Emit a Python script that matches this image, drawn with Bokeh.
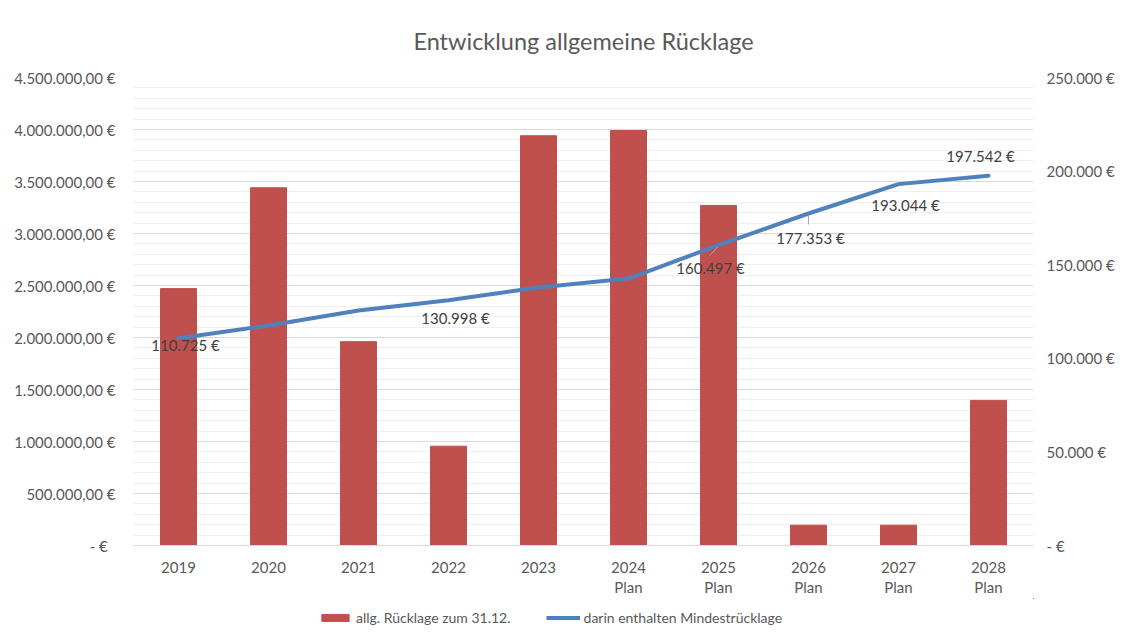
from bokeh.plotting import figure
from bokeh.layouts import column
from bokeh.models import (Range1d, LinearAxis, FixedTicker, Legend, LegendItem,
                          ColumnDataSource)
from bokeh.core.properties import value
from bokeh.embed import file_html
from bokeh.resources import INLINE

# ---------------- data ----------------
years = ["2019", "2020", "2021", "2022", "2023",
         "2024", "2025", "2026", "2027", "2028"]
year_suffix = ["", "", "", "", "", "Plan", "Plan", "Plan", "Plan", "Plan"]
ruecklage = [2470000, 3440000, 1960000, 955000, 3940000,
             3990000, 3270000, 195000, 195000, 1395000]
mindest = [110725, 117500, 125500, 130998, 137800,
           142600, 160497, 177353, 193044, 197542]
label_shown = [True, False, False, True, False, False, True, True, True, True]

left_ticks = [0, 500000, 1000000, 1500000, 2000000, 2500000,
              3000000, 3500000, 4000000, 4500000]
left_tick_labels = ["-   €", "500.000,00 €", "1.000.000,00 €", "1.500.000,00 €",
                    "2.000.000,00 €", "2.500.000,00 €", "3.000.000,00 €",
                    "3.500.000,00 €", "4.000.000,00 €", "4.500.000,00 €"]
right_ticks = [0, 50000, 100000, 150000, 200000, 250000]
right_tick_labels = ["-   €", "50.000 €", "100.000 €", "150.000 €",
                     "200.000 €", "250.000 €"]

series_names = ["allg. Rücklage zum 31.12.", "darin enthalten Mindestrücklage"]
title = "Entwicklung allgemeine Rücklage"

# ---------------- styles ----------------
FONT = "Lato"
TXT = "#595959"
BAR = "#C0504D"
LINE = "#4F81BD"
# per-label pixel offsets (style only; positive dy = downward)
lbl_dx = [7, 0, 0, 7, 0, 0, -8, 2, 7, -8]
lbl_dy = [7, 0, 0, 18, 0, 0, 23, 25, 21, -20]


def fmt_eur(v):
    return "{:,.0f}".format(v).replace(",", ".") + " €"


xs = list(range(len(years)))
Y2MAX = right_ticks[-1]

p = figure(frame_width=900, frame_height=468,
           x_range=Range1d(-0.5, len(years) - 0.5),
           y_range=Range1d(left_ticks[0], left_ticks[-1]),
           output_backend="svg", toolbar_location=None,
           min_border_left=133, min_border_right=85,
           min_border_top=77, min_border_bottom=0)
p.extra_y_ranges = {"y2": Range1d(right_ticks[0], right_ticks[-1])}

p.title.text = title
p.title.align = "center"
p.title.text_font = FONT
p.title.text_font_size = "23.5px"
p.title.text_font_style = "normal"
p.title.text_color = TXT
p.title.text_line_height = 1.0
p.title.standoff = 46
p.outline_line_color = None

src = ColumnDataSource(dict(x=xs, r=ruecklage, m=mindest))
bars = p.vbar(x="x", top="r", width=0.4, color=BAR, source=src)
line = p.line(x="x", y="m", source=src, y_range_name="y2",
              line_width=4, line_color=LINE, line_cap="round", line_join="round")

# data labels
lx, ly, lt, ldx, ldy = [], [], [], [], []
for i, show in enumerate(label_shown):
    if show:
        lx.append(xs[i]); ly.append(mindest[i]); lt.append(fmt_eur(mindest[i]))
        ldx.append(lbl_dx[i]); ldy.append(lbl_dy[i])
lsrc = ColumnDataSource(dict(x=lx, y=ly, t=lt, dx=ldx, dy=ldy))
p.text(x="x", y="y", text="t", x_offset="dx", y_offset="dy", source=lsrc,
       y_range_name="y2", text_font=value(FONT), text_font_size="15px",
       text_color="#404040", text_align="center", text_baseline="middle")

# leader lines for 2025 and 2026 labels
px_y = Y2MAX / 468.0
px_x = len(years) / 900.0
i25, i26 = 6, 7
p.segment(x0=[xs[i25] - 1 * px_x, xs[i26]],
          y0=[mindest[i25] - 2 * px_y, mindest[i26] - 2 * px_y],
          x1=[xs[i25] - 9 * px_x, xs[i26]],
          y1=[mindest[i25] - 11 * px_y, mindest[i26] - 11 * px_y],
          y_range_name="y2", line_color="#a6a6a6", line_width=1)


def style_axis(ax, standoff):
    ax.axis_line_color = None
    ax.major_tick_line_color = None
    ax.minor_tick_line_color = None
    ax.major_tick_out = 0
    ax.major_tick_in = 0
    ax.minor_tick_out = 0
    ax.minor_tick_in = 0
    ax.major_label_standoff = standoff
    ax.major_label_text_font = FONT
    ax.major_label_text_font_size = "15px"
    ax.major_label_text_color = TXT


# axes
minor = [v for v in range(0, left_ticks[-1] + 1, 100000)]
yax = p.yaxis[0]
yax.ticker = FixedTicker(ticks=left_ticks, minor_ticks=minor)
yax.major_label_overrides = {t: l for t, l in zip(left_ticks, left_tick_labels)}
style_axis(yax, 18)

ax2 = LinearAxis(y_range_name="y2", ticker=FixedTicker(ticks=right_ticks))
ax2.major_label_overrides = {t: l for t, l in zip(right_ticks, right_tick_labels)}
style_axis(ax2, 13)
p.add_layout(ax2, "right")

xax = p.xaxis[0]
xax.ticker = FixedTicker(ticks=xs)
xax.major_label_overrides = {x: y for x, y in zip(xs, years)}
style_axis(xax, 16)
xax.axis_line_color = "#d9d9d9"

plan_x = [x for x, s in zip(xs, year_suffix) if s]
xax2 = LinearAxis(ticker=FixedTicker(ticks=plan_x))
xax2.major_label_overrides = {x: s for x, s in zip(xs, year_suffix) if s}
style_axis(xax2, 2)
p.add_layout(xax2, "below")

p.xgrid.grid_line_color = None
p.ygrid.grid_line_color = "#d9d9d9"
p.ygrid.minor_grid_line_color = "#eeeeee"

# ---------------- legend strip below the chart ----------------
# the same series are drawn here outside the visible range, only so that
# the legend has renderers to draw its swatches from
p2 = figure(frame_width=900, frame_height=28,
            x_range=Range1d(-100, -99), y_range=Range1d(-100, -99),
            min_border_left=133, min_border_right=85,
            min_border_top=0, min_border_bottom=0,
            x_axis_type=None, y_axis_type=None,
            output_backend="svg", toolbar_location=None)
p2.outline_line_color = None
p2.xgrid.grid_line_color = None
p2.ygrid.grid_line_color = None
lg_bar = p2.vbar(x="x", top="r", width=0.4, color=BAR, source=src)
lg_line = p2.line(x="x", y="m", source=src, line_width=4, line_color=LINE)

legend = Legend(items=[LegendItem(label=series_names[0], renderers=[lg_bar]),
                       LegendItem(label=series_names[1], renderers=[lg_line])],
                orientation="horizontal", location=(185, 0),
                border_line_color=None, background_fill_alpha=0,
                label_text_font=FONT, label_text_font_size="14px",
                label_text_color=TXT, glyph_width=34, glyph_height=9,
                spacing=35, label_standoff=4, margin=0, padding=4)
p2.add_layout(legend, "center")

layout = column(p, p2, spacing=0)
open("out.html", "w").write(file_html(layout, INLINE))
